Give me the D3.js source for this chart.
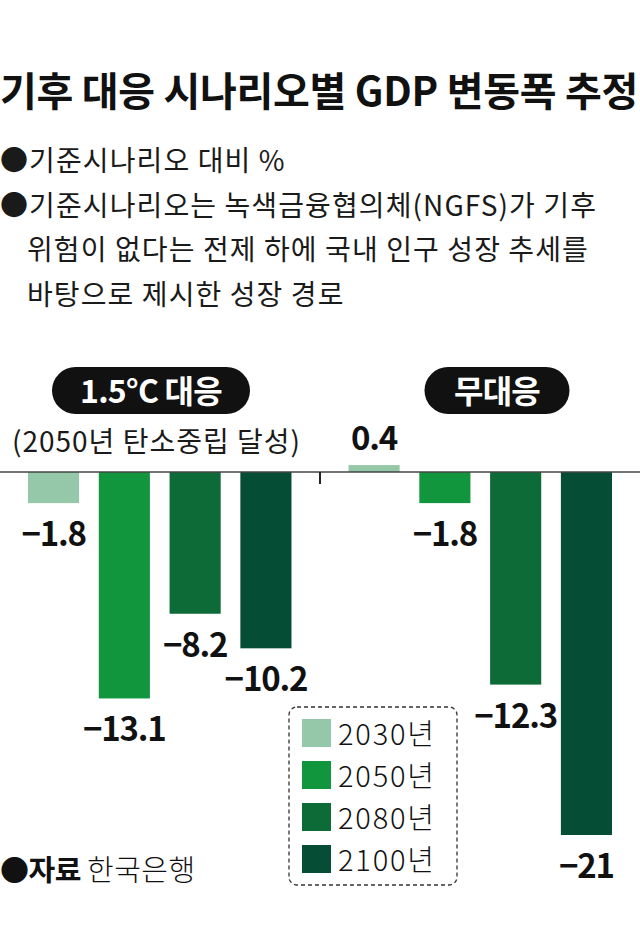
<!DOCTYPE html>
<html>
<head>
<meta charset="utf-8">
<script src="https://cdn.jsdelivr.net/npm/d3@7"></script>
<style>
  body{margin:0;background:#fff;}
  svg{display:block;font-family:"Noto Sans CJK KR","Noto Sans",sans-serif;}
</style>
</head>
<body>
<svg id="chart" width="640" height="947"></svg>
<script>
// data
var scenarios = ["1.5°C 대응", "무대응"];
var years = ["2030년", "2050년", "2080년", "2100년"];
var valuesGreen = [-1.8, -13.1, -8.2, -10.2];   // 1.5°C 대응
var valuesNone = [0.4, -1.8, -12.3, -21];       // 무대응
var colors = ["#95c8a8", "#12963d", "#0c6b37", "#054d35"];

var titleText = "기후 대응 시나리오별 GDP 변동폭 추정";
var noteLines = [
	"●기준시나리오 대비 %",
	"●기준시나리오는 녹색금융협의체(NGFS)가 기후",
	"위험이 없다는 전제 하에 국내 인구 성장 추세를",
	"바탕으로 제시한 성장 경로"
];
var subLabel = "(2050년 탄소중립 달성)";

var svg = d3.select("#chart");
var fmt = d3.format("~g");

// title + notes
svg.append("text")
	.attr("x", 0).attr("y", 106)
	.attr("font-size", 40).attr("font-weight", 700)
	.attr("letter-spacing", -0.3)
	.attr("fill", "#111")
	.text(titleText);

svg.selectAll(".note")
	.data(noteLines)
	.enter()
		.append("text")
		.attr("class", "note")
		.attr("x", function(d, i){ return i < 2 ? 0 : 27; })
		.attr("y", function(d, i){ return 171 + i * 44.7; })
		.attr("font-size", 28).attr("font-weight", 400)
		.attr("letter-spacing", 1.1)
		.attr("fill", "#1a1a1a")
		.text(function(d){ return d; });

// scales
var y = d3.scaleLinear().domain([0, -21]).range([472, 835]);
var x0 = d3.scaleBand().domain(scenarios).range([28, 612]).paddingInner(0.178);
var x1 = d3.scaleBand().domain(years).range([0, x0.bandwidth()]).paddingInner(0.278);

var rows = [];
[valuesGreen, valuesNone].forEach(function(vals, g){
	vals.forEach(function(v, i){
		rows.push({scenario: scenarios[g], year: years[i], value: v, idx: i});
	});
});

svg.selectAll(".bar")
	.data(rows)
	.enter()
		.append("rect")
		.attr("class", "bar")
		.attr("x", function(d){ return x0(d.scenario) + x1(d.year); })
		.attr("y", function(d){ return Math.min(y(d.value), y(0)); })
		.attr("width", x1.bandwidth())
		.attr("height", function(d){ return Math.abs(y(d.value) - y(0)); })
		.attr("fill", function(d){ return colors[d.idx]; });

// baseline and middle tick
svg.append("line")
	.attr("x1", 0).attr("x2", 640)
	.attr("y1", y(0)).attr("y2", y(0))
	.attr("stroke", "#444").attr("stroke-width", 1.5);
svg.append("line")
	.attr("x1", 320).attr("x2", 320)
	.attr("y1", y(0)).attr("y2", y(0) + 12)
	.attr("stroke", "#222").attr("stroke-width", 2);

// value labels
svg.selectAll(".val")
	.data(rows)
	.enter()
		.append("text")
		.attr("class", "val")
		.attr("x", function(d){ return x0(d.scenario) + x1(d.year) + x1.bandwidth() / 2; })
		.attr("y", function(d){ return d.value < 0 ? y(d.value) + 43 : y(d.value) - 15; })
		.attr("text-anchor", "middle")
		.attr("font-size", 33).attr("font-weight", 700)
		.attr("letter-spacing", -1.2)
		.attr("fill", "#111")
		.text(function(d){ return fmt(d.value); });

// scenario pills
var pillW = [198, 145];
scenarios.forEach(function(s, g){
	var cx = g === 0 ? 151 : 497;
	svg.append("rect")
		.attr("x", cx - pillW[g] / 2).attr("y", 367)
		.attr("width", pillW[g]).attr("height", 47)
		.attr("rx", 23.5).attr("ry", 23.5)
		.attr("fill", "#111");
	svg.append("text")
		.attr("x", cx).attr("y", 403)
		.attr("text-anchor", "middle")
		.attr("font-size", 32).attr("font-weight", 700)
		.attr("letter-spacing", -0.8)
		.attr("fill", "#fff")
		.text(s);
});
svg.append("text")
	.attr("x", 12).attr("y", 452)
	.attr("font-size", 28).attr("letter-spacing", 1)
	.attr("fill", "#1a1a1a")
	.text(subLabel);

// legend
var legend = svg.append("g").attr("transform", "translate(289,707)");
legend.append("rect")
	.attr("width", 168).attr("height", 178)
	.attr("rx", 8).attr("ry", 8)
	.attr("fill", "none").attr("stroke", "#333")
	.attr("stroke-width", 1.3).attr("stroke-dasharray", "4,3");
var li = legend.selectAll(".li")
	.data(years)
	.enter()
		.append("g")
		.attr("class", "li")
		.attr("transform", function(d, i){ return "translate(13," + (12 + i * 42) + ")"; });
li.append("rect")
	.attr("width", 29).attr("height", 28)
	.attr("fill", function(d, i){ return colors[i]; });
li.append("text")
	.attr("x", 36).attr("y", 26)
	.attr("font-size", 29).attr("font-weight", 300)
	.attr("letter-spacing", 1.8)
	.attr("fill", "#111")
	.text(function(d){ return d; });

// source
var src = svg.append("text").attr("x", 0).attr("y", 881).attr("font-size", 29).attr("fill", "#111");
src.append("tspan").attr("font-weight", 700).attr("letter-spacing", -0.5).text("●자료 ");
src.append("tspan").attr("font-weight", 300).attr("letter-spacing", 0.5).text("한국은행");
</script>
</body>
</html>
